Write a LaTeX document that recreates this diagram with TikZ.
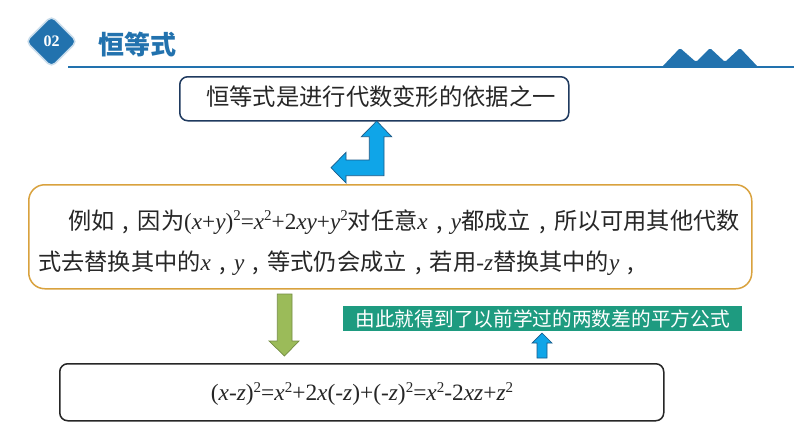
\documentclass[tikz,border=0pt]{standalone}
\usepackage{fontspec}
\setmainfont{Noto Sans CJK SC}
\newfontfamily\lat{Liberation Serif}
\newcommand{\mi}[1]{{\lat\itshape #1}}
\newcommand{\mr}[1]{{\lat #1}}
\newcommand{\supr}[1]{\raisebox{.38em}{\lat\fontsize{15}{15}\selectfont #1}}
\newcommand{\cm}{\makebox[1em][c]{,}}
\definecolor{hdr}{HTML}{2272AE}
\definecolor{navy}{HTML}{1F3A5F}
\definecolor{orng}{HTML}{D9A23E}
\definecolor{teal}{HTML}{1E9B80}
\definecolor{sky}{HTML}{0FA5E8}
\definecolor{olive}{HTML}{9BBB59}
\tikzset{x=1pt,y=-1pt,
 panel/.style={draw,rounded corners=8pt,line width=1.5pt,fill=white},
 txt/.style={anchor=west,inner sep=0pt,text=black!85},
 blockarrow/.style={line width=.7pt,line join=miter}}
\begin{document}
\begin{tikzpicture}
\useasboundingbox (0,0) rectangle (794,447);
\fill[white] (0,0) rectangle (794,447);
% header
\draw[hdr,line width=2pt] (68,66.5) -- (794,66.5);
\fill[hdr,rounded corners=1.5pt] (662,67) -- (680,48) -- (696,62) -- (710,48) -- (725,62) -- (740,48) -- (758,67) -- cycle;
\node[draw=hdr!25,line width=1.5pt,fill=hdr,rounded corners=5pt,minimum size=36pt,rotate=45,inner sep=0pt] (badge) at (51.5,41.5) {};
\node[text=white,font=\lat\bfseries\fontsize{16}{16}\selectfont] (num) at (51.5,41.5) {02};
\node[anchor=west,inner sep=0pt,text=hdr,font=\bfseries\fontsize{26}{26}\selectfont] (title) at (98,44) {恒等式};
% panels
\node[panel,draw=navy,minimum width=389pt,minimum height=44pt,anchor=north west,inner sep=0pt] (top) at (179,76) {};
\node[txt,font=\fontsize{23.3}{24}\selectfont] (toptext) at (206,97) {恒等式是进行代数变形的依据之一};
\node[panel,draw=orng,rounded corners=16pt,minimum width=723pt,minimum height=104pt,anchor=north west,inner sep=0pt] (mid) at (28,184) {};
\node[txt,font=\fontsize{23.2}{24}\selectfont] (l1) at (68,222) {例如\cm 因为\mr{(}\mi{x}\mr{+}\mi{y}\mr{)}\supr{2}\mr{=}\mi{x}\supr{2}\mr{+2}\mi{xy}\mr{+}\mi{y}\supr{2}对任意\mi{x}\cm\mi{y}都成立\cm 所以可用其他代数};
\node[txt,font=\fontsize{23.2}{24}\selectfont] (l2) at (38,263) {式去替换其中的\mi{x}\cm\mi{y}\cm 等式仍会成立\cm 若用\mr{-}\mi{z}替换其中的\mi{y}\cm};
\node[panel,draw=black!85,minimum width=604pt,minimum height=57pt,anchor=north west,inner sep=0pt] (bot) at (59,363) {};
\node[inner sep=0pt,text=black!85,font=\lat\fontsize{23.4}{24}\selectfont] (formula) at (362,394) {\mr{(}\mi{x}\mr{-}\mi{z}\mr{)}\supr{2}\mr{=}\mi{x}\supr{2}\mr{+2}\mi{x}\mr{(-}\mi{z}\mr{)+(-}\mi{z}\mr{)}\supr{2}\mr{=}\mi{x}\supr{2}\mr{-2}\mi{xz}\mr{+}\mi{z}\supr{2}};
\node[fill=teal,text=white,minimum width=399pt,minimum height=25pt,anchor=north west,inner sep=0pt,font=\fontsize{19.7}{22}\selectfont] (label) at (343,306) {由此就得到了以前学过的两数差的平方公式};
% block arrows
\draw[blockarrow,draw=navy!70!sky,fill=sky] (376.7,121) -- (391.7,136.7) -- (384,136.7) -- (384,175.7) -- (346,175.7) -- (346,183) -- (331,167.7) -- (346,152.3) -- (346,160) -- (369.3,160) -- (369.3,136.7) -- (361.3,136.7) -- cycle;
\draw[blockarrow,draw=olive!75!black,fill=olive] (277.3,294) -- (292,294) -- (292,341) -- (299,341) -- (284.5,356) -- (269,341) -- (277.3,341) -- cycle;
\draw[blockarrow,draw=navy!70!sky,fill=sky] (542,333) -- (552,343) -- (547,343) -- (547,358) -- (537,358) -- (537,343) -- (532,343) -- cycle;
\end{tikzpicture}
\end{document}
